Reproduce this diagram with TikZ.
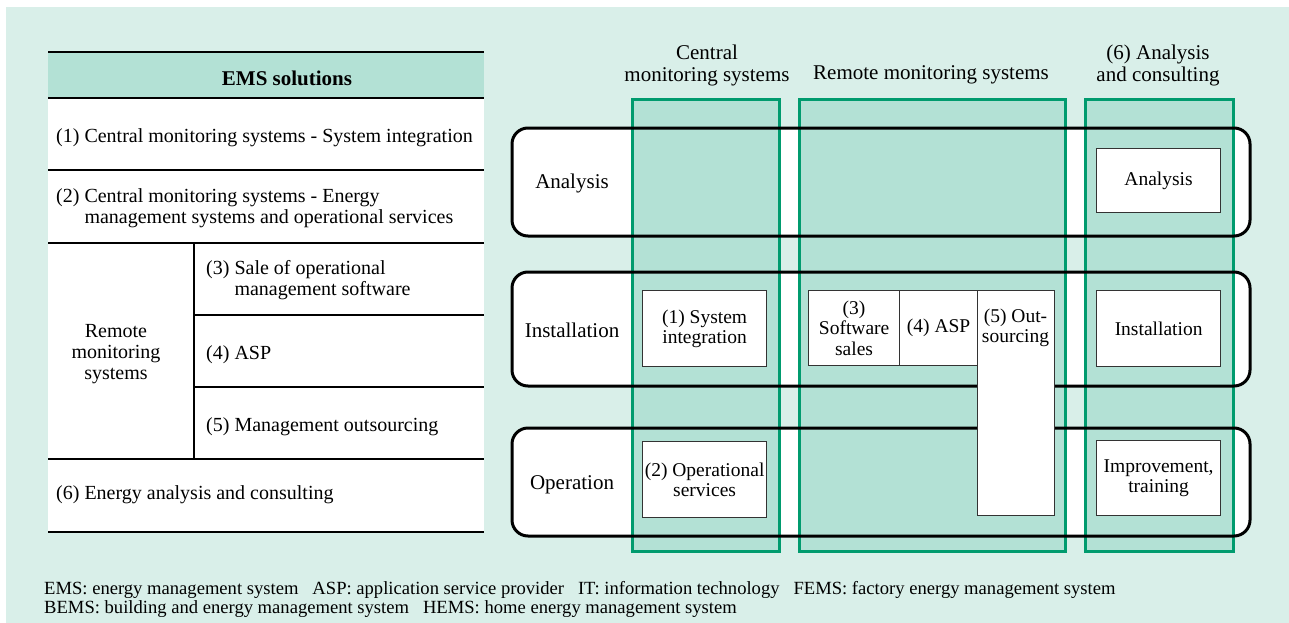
\documentclass[tikz,border=0pt]{standalone}
\usepackage{fontspec}
\setmainfont{Liberation Serif}
\definecolor{bgmint}{HTML}{D9EFE9}
\definecolor{colfill}{HTML}{B3E1D5}
\definecolor{colline}{HTML}{009B6E}
\definecolor{boxline}{HTML}{333333}
\tikzset{
  txt/.style={font=\fontsize{20}{21}\selectfont, inner sep=0pt, align=center},
  bigtxt/.style={font=\fontsize{21}{22}\selectfont, inner sep=0pt, align=center},
  ltxt/.style={font=\fontsize{20}{21}\selectfont, inner sep=0pt, align=left, anchor=west},
  colbox/.style={draw=colline, fill=colfill, line width=2.8pt, anchor=north west, inner sep=0pt},
  rowline/.style={draw=black, line width=3pt, rounded corners=16pt},
  itembox/.style={draw=boxline, fill=white, line width=1.2pt, anchor=north west, inner sep=0pt,
     font=\fontsize{19.5}{20.5}\selectfont, align=center},
  thick rule/.style={line width=2.4pt},
  thin rule/.style={line width=1.5pt},
}
\begin{document}
\begin{tikzpicture}[x=1pt,y=-1pt]
\useasboundingbox (0,0) rectangle (1289,623);
% background
\fill[bgmint] (6,7) rectangle (1289,623);

% ---------------- left table ----------------
\fill[white] (48,52) rectangle (484,532);
\fill[colfill] (48,52) rectangle (484,98);
\draw[thick rule] (48,52) -- (484,52);
\draw[thin rule] (48,98) -- (484,98);
\draw[thin rule] (48,170) -- (484,170);
\draw[thin rule] (48,243) -- (484,243);
\draw[thin rule] (194,315) -- (484,315);
\draw[thin rule] (194,387) -- (484,387);
\draw[thin rule] (48,459) -- (484,459);
\draw[thin rule] (194,243) -- (194,459);
\draw[thick rule] (48,532) -- (484,532);

\node[bigtxt, font=\fontsize{21}{22}\selectfont\bfseries] (hdr) at (287,78) {EMS solutions};
\node[ltxt] (t1) at (56,138) {(1) Central monitoring systems - System integration};
\node[ltxt] (t2) at (56,208) {(2) Central monitoring systems - Energy\\\phantom{(2)} management systems and operational services};
\node[txt] (trm) at (116,354) {Remote\\monitoring\\systems};
\node[ltxt] (t3) at (206,280) {(3) Sale of operational\\\phantom{(3)} management software};
\node[ltxt] (t4) at (206,355) {(4) ASP};
\node[ltxt] (t5) at (206,427) {(5) Management outsourcing};
\node[ltxt] (t6) at (56,495) {(6) Energy analysis and consulting};

% ---------------- right matrix ----------------
% row fills
\fill[white, rounded corners=16pt] (512,128) rectangle (1250,236);
\fill[white, rounded corners=16pt] (512,272) rectangle (1250,386);
\fill[white, rounded corners=16pt] (512,428) rectangle (1250,536);

% columns
\node[colbox, minimum width=147, minimum height=452] (cc) at (631,98) {};
\node[colbox, minimum width=266, minimum height=452] (cr) at (798,98) {};
\node[colbox, minimum width=148, minimum height=452] (ca) at (1084,98) {};

\node[bigtxt] (hc) at (707,65) {Central\\monitoring systems};
\node[bigtxt] (hr) at (931,75) {Remote monitoring systems};
\node[bigtxt] (ha) at (1158,65) {(6) Analysis\\and consulting};

% row outlines
\draw[rowline] (512,128) rectangle (1250,236);
\draw[rowline] (512,272) rectangle (1250,386);
\draw[rowline] (512,428) rectangle (1250,536);

\node[bigtxt] (ra) at (572,183) {Analysis};
\node[bigtxt] (ri) at (572,330) {Installation};
\node[bigtxt] (ro) at (572,485) {Operation};

% item boxes
\node[itembox, minimum width=124, minimum height=64] (b6a) at (1096,148) {Analysis};
\node[itembox, minimum width=124, minimum height=76] (b6i) at (1096,290) {Installation};
\node[itembox, minimum width=124, minimum height=75] (b6o) at (1096,440) {Improvement,\\training};
\node[itembox, minimum width=124, minimum height=76] (b1) at (642,290) {(1) System\\integration};
\node[itembox, minimum width=124, minimum height=76] (b2) at (642,441) {(2) Operational\\services};
\node[itembox, minimum width=91, minimum height=75] (b3) at (808,290) {(3)\\Software\\sales};
\node[itembox, minimum width=78, minimum height=75] (b4) at (899,290) {(4) ASP};
\node[itembox, minimum width=77, minimum height=225] (b5) at (977,290) {};
\node[txt, font=\fontsize{19.5}{20.5}\selectfont] (b5t) at (1015.5,328) {(5) Out-\\sourcing};

% footnote
\node[ltxt, font=\fontsize{18.6}{19}\selectfont] (fn) at (44,599) {EMS: energy management system\ \ \ ASP: application service provider\ \ \ IT: information technology\ \ \ FEMS: factory energy management system\\BEMS: building and energy management system\ \ \ HEMS: home energy management system};
\end{tikzpicture}
\end{document}
